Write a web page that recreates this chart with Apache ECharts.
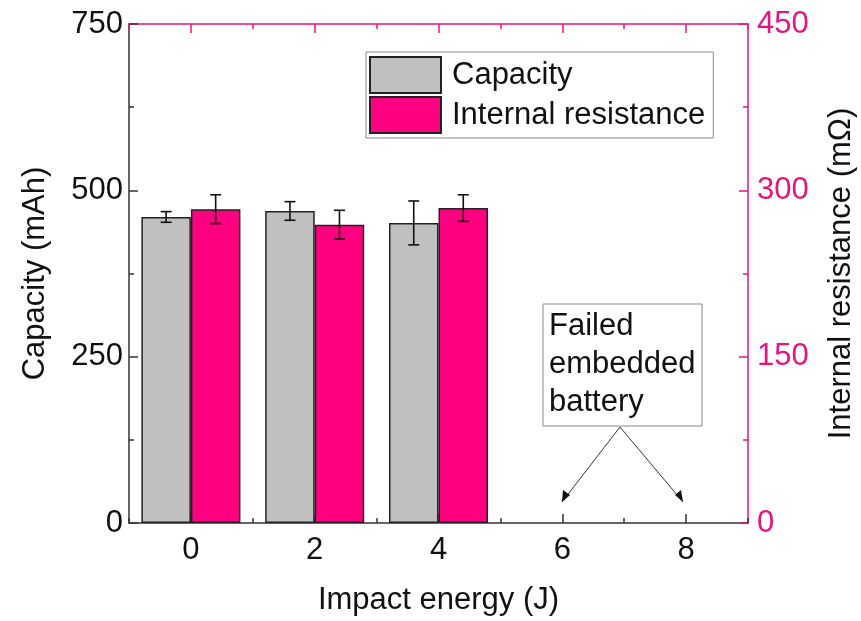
<!DOCTYPE html>
<html>
<head>
<meta charset="utf-8">
<script src="https://cdn.jsdelivr.net/npm/echarts@6/dist/echarts.min.js"></script>
<style>
  html, body { margin: 0; padding: 0; background: #fff; }
  #chart { width: 861px; height: 621px; }
</style>
</head>
<body>
<div id="chart"></div>
<script>
// Impact energy categories (J)
const categories = ['0', '2', '4', '6', '8']
// Capacity (mAh) and its error
const capacity = [460, 469, 451, null, null]
const capacityErr = [8, 14, 33, null, null]
// Internal resistance (mOhm) and its error
const resistance = [283, 269, 284, null, null]
const resistanceErr = [13, 13, 12, null, null]

const FONT = 'Liberation Sans, Arial, sans-serif'
const PINK = '#FF0080'
const AXIS_PINK = '#E5147E'
const DARK = '#333'

// error bar data: [categoryIndex, low, high]
function errData(values, errs) {
  return values
    .map((v, i) => (v == null ? null : [i, v - errs[i], v + errs[i]]))
    .filter(d => d)
}

// side: -1 left bar of the group, +1 right bar
function errorBarRenderer(side) {
  return function (params, api) {
    const idx = api.value(0)
    const lo = api.coord([idx, api.value(1)])
    const hi = api.coord([idx, api.value(2)])
    const bandW = api.size([1, 0])[0]
    const x = lo[0] + side * bandW * 0.2
    const cap = 5.5
    const style = { stroke: '#111', lineWidth: 1.6 }
    return {
      type: 'group',
      children: [
        { type: 'line', shape: { x1: x, y1: lo[1], x2: x, y2: hi[1] }, style },
        { type: 'line', shape: { x1: x - cap, y1: hi[1], x2: x + cap, y2: hi[1] }, style },
        { type: 'line', shape: { x1: x - cap, y1: lo[1], x2: x + cap, y2: lo[1] }, style }
      ]
    }
  }
}

// category axis helper; major ticks at categories, minor ones between them
function xAxisDef(position, major, color, extra) {
  return Object.assign({
    type: 'category',
    position,
    data: categories,
    boundaryGap: true,
    axisLine: major
      ? { show: true, onZero: false, lineStyle: { color, width: 1.5 } }
      : { show: false, onZero: false },
    axisTick: {
      show: true,
      inside: true,
      alignWithLabel: major,
      length: major ? 9 : 5,
      lineStyle: { color, width: 1.5 }
    },
    axisLabel: { show: false },
    splitLine: { show: false }
  }, extra || {})
}

const chart = echarts.init(document.getElementById('chart'))

const textBase = { fontFamily: FONT, fontSize: 31, color: '#111' }

chart.setOption({
  animation: false,
  backgroundColor: '#fff',
  grid: {
    left: 129,
    right: 113,
    top: 24,
    bottom: 98,
    containLabel: false,
    outerBoundsMode: 'none'
  },
  legend: {
    orient: 'vertical',
    left: 366,
    top: 52,
    icon: 'rect',
    itemWidth: 71,
    itemHeight: 36,
    itemGap: 2,
    padding: [4, 8, 4, 3],
    borderColor: '#888',
    borderWidth: 1,
    backgroundColor: '#fff',
    textStyle: { fontFamily: FONT, fontSize: 31, color: '#111', padding: [0, 0, 0, 6] },
    data: ['Capacity', 'Internal resistance']
  },
  xAxis: [
    xAxisDef('bottom', true, DARK, {
      name: 'Impact energy (J)',
      nameLocation: 'middle',
      nameGap: 62,
      nameTextStyle: textBase,
      axisLabel: { show: true, ...textBase, margin: 12 }
    }),
    xAxisDef('top', true, AXIS_PINK),
    xAxisDef('bottom', false, DARK),
    xAxisDef('top', false, AXIS_PINK)
  ],
  yAxis: [
    {
      type: 'value',
      position: 'left',
      min: 0,
      max: 750,
      interval: 250,
      name: 'Capacity (mAh)',
      nameLocation: 'middle',
      nameGap: 78,
      nameTextStyle: textBase,
      axisLine: { show: true, onZero: false, lineStyle: { color: DARK, width: 1.5 } },
      axisTick: { show: true, inside: true, length: 9, lineStyle: { color: DARK, width: 1.5 } },
      minorTick: { show: true, splitNumber: 2, length: 5, lineStyle: { color: DARK, width: 1.5 } },
      axisLabel: { ...textBase, margin: 6 },
      splitLine: { show: false }
    },
    {
      type: 'value',
      position: 'right',
      min: 0,
      max: 450,
      interval: 150,
      name: 'Internal resistance (mΩ)',
      nameLocation: 'middle',
      nameGap: 78,
      nameTextStyle: textBase,
      axisLine: { show: true, onZero: false, lineStyle: { color: AXIS_PINK, width: 1.5 } },
      axisTick: { show: true, inside: true, length: 9, lineStyle: { color: AXIS_PINK, width: 1.5 } },
      minorTick: { show: true, splitNumber: 2, length: 5, lineStyle: { color: AXIS_PINK, width: 1.5 } },
      axisLabel: { ...textBase, color: AXIS_PINK, margin: 9 },
      splitLine: { show: false }
    }
  ],
  series: [
    {
      name: 'Capacity',
      type: 'bar',
      xAxisIndex: 0,
      yAxisIndex: 0,
      data: capacity,
      barWidth: '40%',
      barGap: '0%',
      itemStyle: { color: '#C0C0C0', borderColor: '#222', borderWidth: 1.5 }
    },
    {
      name: 'Internal resistance',
      type: 'bar',
      xAxisIndex: 0,
      yAxisIndex: 1,
      data: resistance,
      barWidth: '40%',
      barGap: '0%',
      itemStyle: { color: PINK, borderColor: '#222', borderWidth: 1.5 }
    },
    {
      name: 'capacityErr',
      type: 'custom',
      xAxisIndex: 0,
      yAxisIndex: 0,
      data: errData(capacity, capacityErr),
      renderItem: errorBarRenderer(-1),
      z: 5
    },
    {
      name: 'resistanceErr',
      type: 'custom',
      xAxisIndex: 0,
      yAxisIndex: 1,
      data: errData(resistance, resistanceErr),
      renderItem: errorBarRenderer(1),
      z: 5
    }
  ],
  graphic: [
    {
      type: 'rect',
      shape: { x: 543, y: 304, width: 159, height: 122 },
      style: { fill: '#fff', stroke: '#888', lineWidth: 1 }
    },
    {
      type: 'text',
      x: 549,
      y: 307,
      style: {
        text: 'Failed\nembedded\nbattery',
        font: '31px ' + FONT,
        fill: '#111',
        lineHeight: 38
      }
    },
    {
      type: 'line',
      shape: { x1: 620, y1: 427, x2: 562, y2: 502 },
      style: { stroke: '#333', lineWidth: 1 }
    },
    {
      type: 'line',
      shape: { x1: 620, y1: 427, x2: 683, y2: 502 },
      style: { stroke: '#333', lineWidth: 1 }
    },
    {
      type: 'polygon',
      shape: { points: [[562, 502], [563, 490], [570, 495]] },
      style: { fill: '#111' }
    },
    {
      type: 'polygon',
      shape: { points: [[683, 502], [675, 495], [681, 490]] },
      style: { fill: '#111' }
    }
  ]
})
</script>
</body>
</html>
